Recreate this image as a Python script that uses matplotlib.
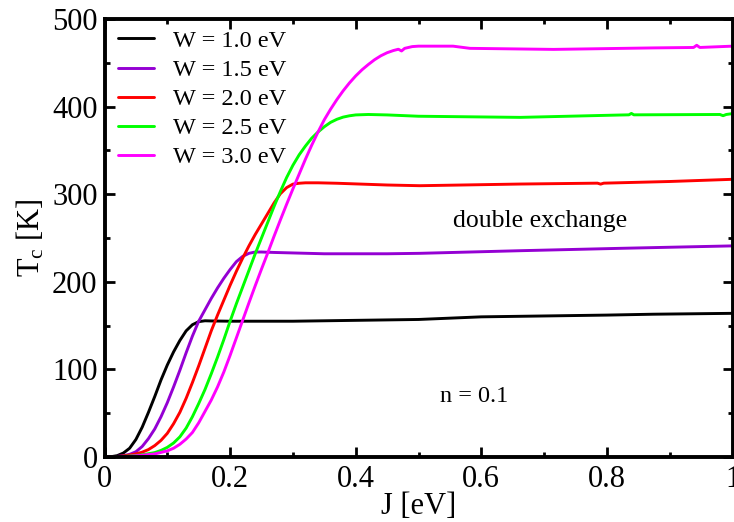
import matplotlib
matplotlib.use("Agg")
import matplotlib.pyplot as plt
from matplotlib.ticker import MultipleLocator, FuncFormatter

plt.rcParams['font.family'] = ['Liberation Serif', 'DejaVu Serif']
plt.rcParams['mathtext.fontset'] = 'custom'
plt.rcParams['mathtext.rm'] = 'Liberation Serif'
plt.rcParams['mathtext.it'] = 'Liberation Serif:italic'

# Curie temperature vs. Hund coupling J for several bandwidths W (n = 0.1)
labels = ["W = 1.0 eV", "W = 1.5 eV", "W = 2.0 eV", "W = 2.5 eV", "W = 3.0 eV"]
colors = ["#000000", "#9400D3", "#FF0000", "#00FF00", "#FF00FF"]

J_w10 = [0.0, 0.01, 0.02, 0.03, 0.04, 0.05, 0.06, 0.07, 0.08, 0.09, 0.10,
         0.11, 0.12, 0.13, 0.14, 0.15, 0.16, 0.17, 0.20, 0.30, 0.40, 0.50,
         0.60, 0.70, 0.80, 0.874, 1.0]
Tc_w10 = [0, 0.3, 1.5, 4.5, 10, 20, 34, 51, 69, 88, 105,
          120, 133, 144, 151, 154.5, 155.5, 155.3, 155, 155, 156, 157,
          160, 161, 162, 163, 164]

J_w15 = [0.0, 0.01, 0.02, 0.03, 0.04, 0.05, 0.06, 0.07, 0.08, 0.09, 0.10,
         0.11, 0.12, 0.13, 0.14, 0.15, 0.16, 0.17, 0.18, 0.19, 0.20,
         0.21, 0.22, 0.23, 0.24, 0.25, 0.27, 0.35, 0.45, 0.502, 0.662,
         0.821, 1.0]
Tc_w15 = [0, 0.2, 0.7, 1.5, 3, 6, 12, 21, 32, 46, 62,
          80, 99, 119, 138, 155, 168, 181, 193, 204, 214,
          223, 229, 232.5, 234, 234, 233.5, 232, 232, 232.5, 235.5,
          238.2, 241]

J_w20 = [0.0, 0.01, 0.02, 0.03, 0.04, 0.05, 0.06, 0.07, 0.08, 0.09, 0.10,
         0.11, 0.12, 0.13, 0.14, 0.15, 0.16, 0.17, 0.18, 0.19, 0.20,
         0.21, 0.22, 0.23, 0.24, 0.25, 0.26, 0.27, 0.28, 0.29, 0.30,
         0.31, 0.32, 0.34, 0.37, 0.45, 0.502, 0.662, 0.785, 0.79, 0.795,
         0.90, 1.0]
Tc_w20 = [0, 0.1, 0.5, 1.2, 2.2, 3.5, 5.5, 8.5, 13, 19, 27,
          38, 51, 67, 85, 104, 124, 144, 162, 179, 196,
          212, 227, 241, 254, 266, 278, 290, 300.5, 307.5, 311.5,
          312.5, 313, 313, 312.5, 310.5, 309.7, 311.6, 312.6, 311.5, 312.6,
          314.5, 317]

J_w25 = [0.0, 0.02, 0.04, 0.06, 0.08, 0.09, 0.10, 0.11, 0.12, 0.13, 0.14,
         0.15, 0.16, 0.17, 0.18, 0.19, 0.20, 0.21, 0.22, 0.23, 0.24,
         0.25, 0.26, 0.27, 0.28, 0.29, 0.30, 0.31, 0.32, 0.33, 0.34,
         0.35, 0.36, 0.37, 0.38, 0.39, 0.40, 0.42, 0.45, 0.50, 0.662,
         0.821, 0.835, 0.839, 0.843, 0.98, 0.985, 0.99, 1.0]
Tc_w25 = [0, 0.3, 1, 2.5, 5, 7.5, 11, 16, 23, 33, 46,
          61, 77, 95, 114, 134, 155, 175, 194, 213, 232,
          250, 268, 286, 303, 319, 333, 345, 355, 364, 371,
          377, 382, 385.5, 388, 389.5, 390.5, 391, 390.5, 389, 387.7,
          390.4, 390.6, 392.2, 390.6, 391, 389.6, 391, 392]

J_w30 = [0.0, 0.02, 0.04, 0.06, 0.08, 0.10, 0.11, 0.12, 0.13, 0.14, 0.15,
         0.16, 0.17, 0.18, 0.19, 0.20, 0.21, 0.22, 0.23, 0.24, 0.25,
         0.26, 0.27, 0.28, 0.29, 0.30, 0.31, 0.32, 0.33, 0.34, 0.35,
         0.36, 0.37, 0.38, 0.39, 0.40, 0.41, 0.42, 0.43, 0.44, 0.45,
         0.46, 0.468, 0.473, 0.478, 0.49, 0.50, 0.555, 0.582, 0.715, 0.874,
         0.938, 0.943, 0.948, 1.0]
Tc_w30 = [0, 0.2, 0.8, 2, 3.5, 7, 10, 14.5, 20.5, 28, 39,
          52, 65, 80, 97, 116, 136, 156, 176, 195.5, 214.5,
          233, 252, 270.5, 288.5, 306, 323, 340, 356, 371, 385,
          397, 408, 418, 427, 435, 442, 448, 453.5, 458, 461.5,
          464, 465.5, 463.5, 466.5, 468.5, 469, 469, 466.5, 465.3, 467,
          467.5, 470, 467.5, 469]

J_series = [J_w10, J_w15, J_w20, J_w25, J_w30]
Tc_series = [Tc_w10, Tc_w15, Tc_w20, Tc_w25, Tc_w30]

fig = plt.figure(figsize=(7.34, 5.22), dpi=100)
ax = fig.add_axes([104.5 / 734, 65 / 522, 628 / 734, 438 / 522])

for J, Tc, lab, col in zip(J_series, Tc_series, labels, colors):
    ax.plot(J, Tc, color=col, lw=2.1, label=lab,
            solid_capstyle='round', solid_joinstyle='round')

ax.set_xlim(0, 1)
ax.set_ylim(0, 500)
ax.xaxis.set_major_locator(MultipleLocator(0.2))
ax.xaxis.set_minor_locator(MultipleLocator(0.1))
ax.yaxis.set_major_locator(MultipleLocator(100))
ax.yaxis.set_minor_locator(MultipleLocator(50))
ax.xaxis.set_major_formatter(FuncFormatter(lambda v, p: f"{v:g}"))

for s in ax.spines.values():
    s.set_linewidth(2.8)
ax.tick_params(which='both', direction='in', top=True, right=True, width=2.0)
ax.tick_params(which='major', length=7, labelsize=22)
ax.tick_params(which='minor', length=3.5)
ax.tick_params(axis='x', which='major', pad=6)
ax.tick_params(axis='y', which='major', pad=5)

ax.set_xlabel("J [eV]", fontsize=22)
ax.set_ylabel(r"T$_{\mathrm{c}}$ [K]", fontsize=22)
ax.xaxis.set_label_coords(0.5, -0.08)
ax.yaxis.set_label_coords(-0.093, 0.5)

ax.text(0.693, 263, "double exchange", fontsize=18.5, ha='center', va='baseline')
ax.text(0.588, 63, "n = 0.1", fontsize=17.5, ha='center', va='baseline')

ax.legend(loc='upper left', bbox_to_anchor=(0.0215, 0.975), frameon=False,
          fontsize=17.5, handlelength=1.5, handletextpad=0.75,
          labelspacing=0.29, borderpad=0, borderaxespad=0)

fig.savefig("out.png", dpi=100)
